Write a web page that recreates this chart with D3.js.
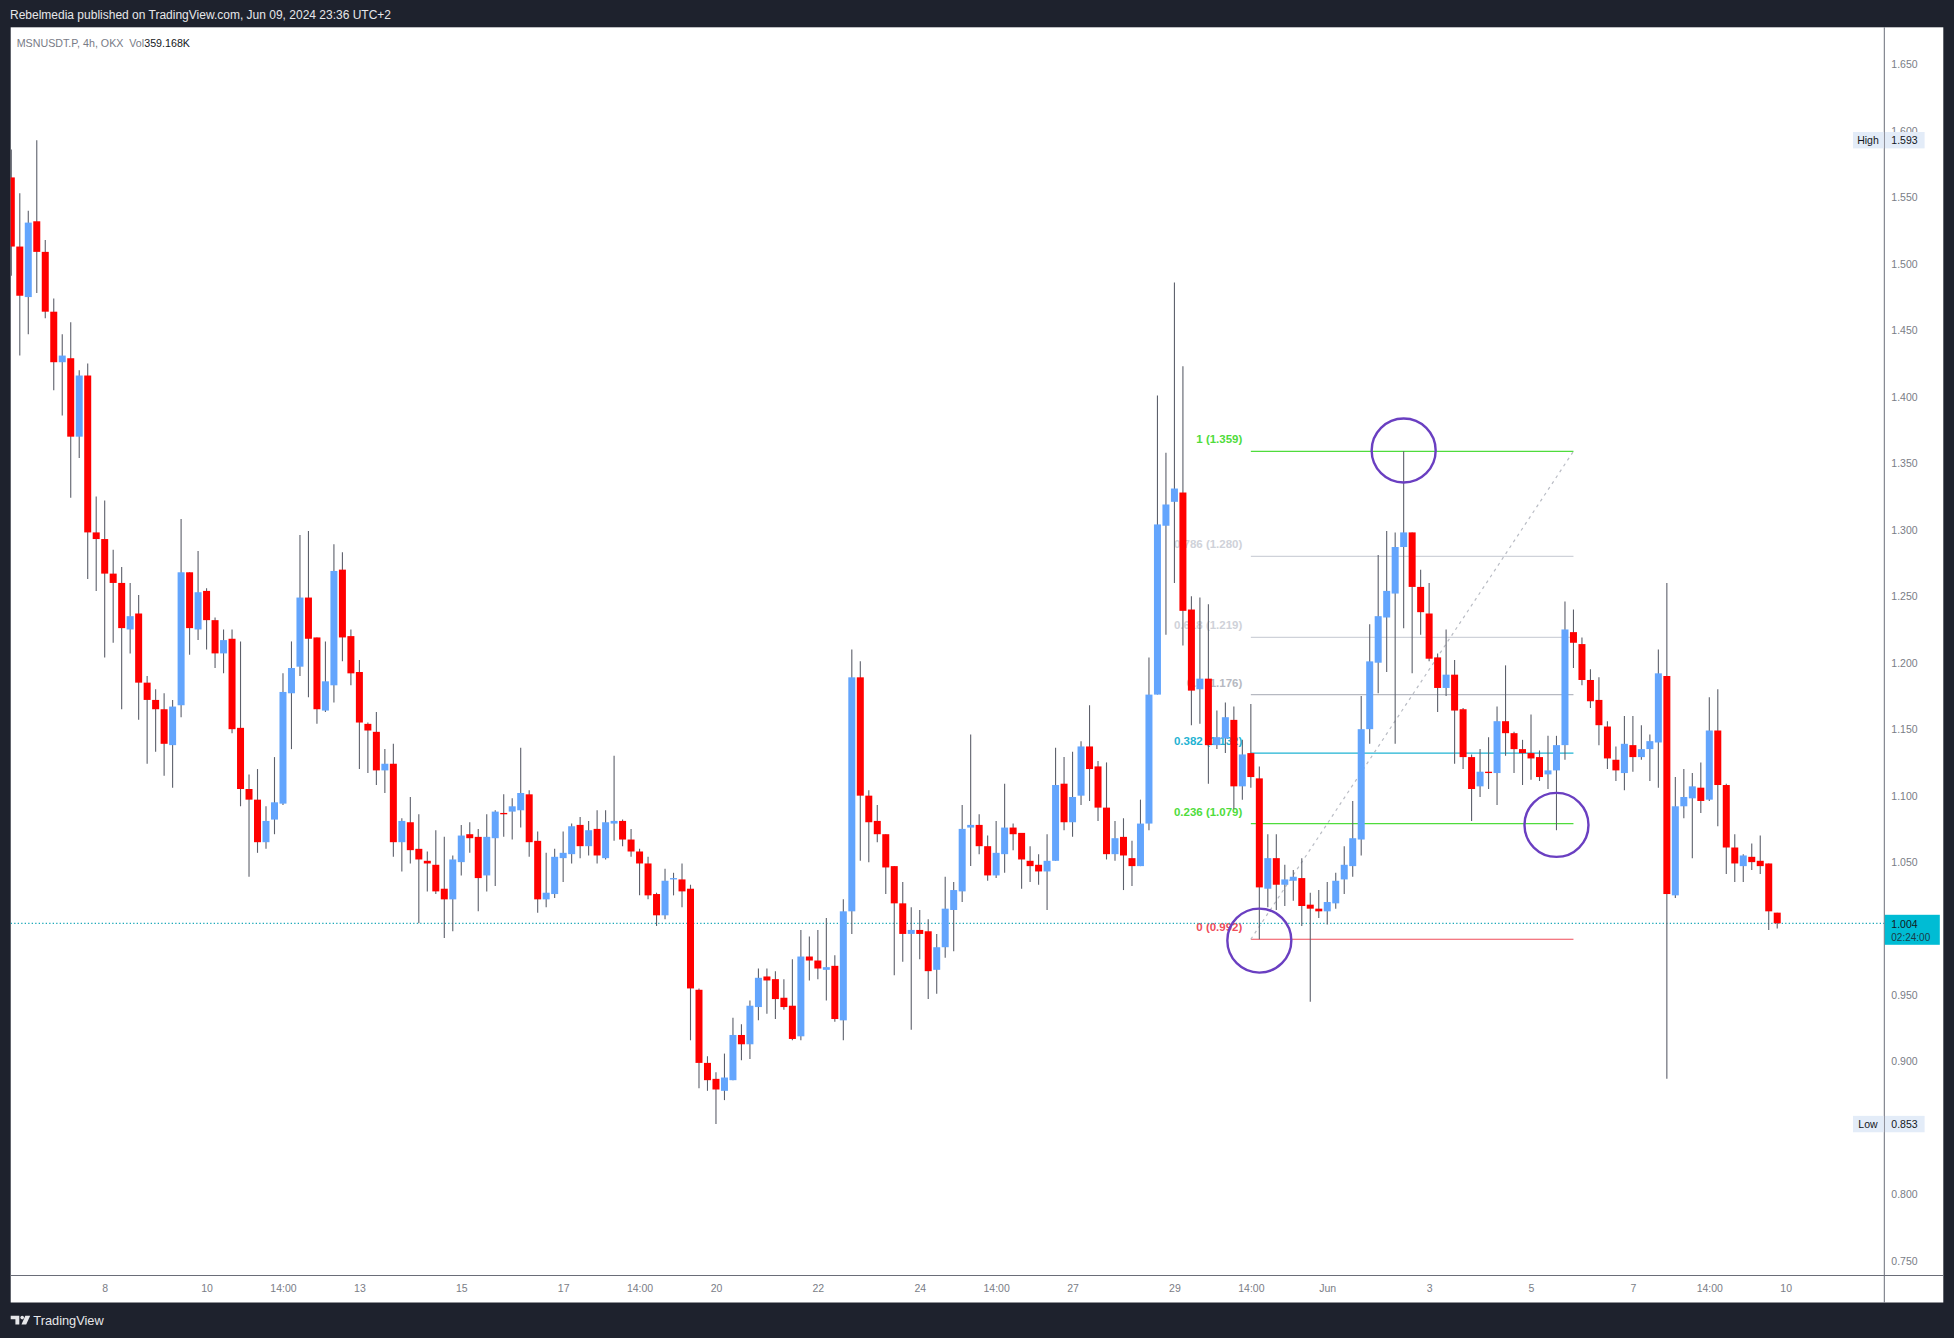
<!DOCTYPE html>
<html><head><meta charset="utf-8">
<script src="https://cdn.jsdelivr.net/npm/d3@7"></script>
<style>html,body{margin:0;padding:0;background:#1e222d;overflow:hidden}</style>
</head><body>
<svg id="chart" width="1954" height="1338"></svg>
<script>
// ---------------- DATA ----------------
// 4h candles, MSNUSDT.P (OKX), times shown in UTC+2
const firstCandle = "2024-05-06T06:00";
const candleHours = 4;
const openPrices = [
1.565,1.513,1.475,1.532,1.509,1.464,1.426,1.429,1.370,1.416,
1.298,1.293,1.267,1.260,1.225,1.237,1.185,1.172,1.165,1.138,
1.168,1.268,1.225,1.254,1.232,1.207,1.218,1.151,1.105,1.097,
1.065,1.082,1.094,1.177,1.197,1.249,1.219,1.164,1.183,1.270,
1.220,1.193,1.154,1.148,1.119,1.124,1.065,1.080,1.060,1.051,
1.048,1.030,1.022,1.050,1.071,1.069,1.040,1.068,1.087,1.088,
1.089,1.101,1.066,1.022,1.026,1.053,1.056,1.078,1.062,1.075,
1.053,1.079,1.081,1.067,1.058,1.049,1.026,1.010,1.037,1.037,
1.030,0.954,0.899,0.887,0.878,0.886,0.920,0.913,0.941,0.964,
0.962,0.948,0.942,0.919,0.979,0.976,0.969,0.972,0.931,1.013,
1.189,1.100,1.081,1.071,1.047,1.019,0.996,0.999,0.998,0.969,
0.986,1.014,1.028,1.076,1.078,1.062,1.040,1.056,1.076,1.072,
1.051,1.048,1.043,1.051,1.109,1.080,1.100,1.137,1.122,1.091,
1.056,1.069,1.053,1.047,1.079,1.176,1.303,1.321,1.328,1.240,
1.180,1.188,1.138,1.143,1.157,1.107,1.132,1.113,1.030,1.053,
1.033,1.036,1.038,1.018,1.015,1.013,1.019,1.037,1.047,1.067,
1.150,1.200,1.234,1.252,1.287,1.298,1.257,1.237,1.204,1.181,
1.191,1.165,1.129,1.107,1.118,1.117,1.156,1.147,1.135,1.132,
1.129,1.116,1.119,1.138,1.223,1.214,1.187,1.172,1.152,1.127,
1.117,1.138,1.129,1.135,1.140,1.190,1.025,1.092,1.098,1.106,
1.097,1.149,1.108,1.061,1.047,1.054,1.051,1.049,1.012];
const highPrices = [
1.586,1.553,1.540,1.593,1.518,1.474,1.447,1.456,1.420,1.425,
1.325,1.322,1.285,1.272,1.260,1.251,1.190,1.180,1.177,1.172,
1.308,1.268,1.284,1.256,1.234,1.225,1.225,1.216,1.116,1.120,
1.092,1.129,1.192,1.216,1.296,1.299,1.219,1.216,1.289,1.283,
1.225,1.202,1.155,1.163,1.135,1.139,1.083,1.099,1.086,1.058,
1.074,1.069,1.055,1.078,1.080,1.075,1.086,1.089,1.101,1.098,
1.136,1.104,1.073,1.057,1.060,1.073,1.079,1.084,1.081,1.089,
1.089,1.130,1.082,1.075,1.060,1.054,1.027,1.045,1.042,1.049,
1.033,0.955,0.904,0.892,0.906,0.933,0.928,0.946,0.970,0.970,
0.968,0.962,0.977,0.999,0.994,0.999,1.008,0.980,1.022,1.210,
1.201,1.104,1.093,1.071,1.047,1.035,1.016,1.014,1.007,0.996,
1.039,1.035,1.093,1.146,1.086,1.070,1.081,1.109,1.079,1.072,
1.062,1.056,1.071,1.136,1.129,1.133,1.141,1.168,1.126,1.125,
1.081,1.083,1.066,1.097,1.204,1.401,1.358,1.486,1.423,1.250,
1.249,1.244,1.164,1.170,1.167,1.142,1.169,1.122,1.071,1.071,
1.048,1.044,1.053,1.027,1.029,1.035,1.042,1.062,1.096,1.175,
1.229,1.281,1.299,1.298,1.359,1.298,1.270,1.260,1.207,1.225,
1.202,1.166,1.131,1.135,1.144,1.167,1.198,1.148,1.142,1.161,
1.134,1.145,1.145,1.246,1.240,1.219,1.195,1.189,1.156,1.137,
1.160,1.160,1.153,1.146,1.210,1.260,1.114,1.120,1.117,1.125,
1.174,1.180,1.109,1.071,1.056,1.064,1.070,1.049,1.012];
const lowPrices = [
1.491,1.431,1.447,1.478,1.459,1.405,1.386,1.324,1.354,1.263,
1.254,1.204,1.215,1.165,1.207,1.157,1.124,1.133,1.115,1.106,
1.159,1.206,1.217,1.210,1.196,1.192,1.147,1.092,1.039,1.057,
1.060,1.071,1.093,1.135,1.190,1.174,1.154,1.163,1.170,1.201,
1.183,1.120,1.117,1.108,1.102,1.054,1.043,1.049,1.004,1.028,
1.026,0.993,0.998,1.040,1.057,1.013,1.028,1.032,1.069,1.067,
1.076,1.054,1.012,1.016,1.023,1.035,1.049,1.053,1.055,1.049,
1.052,1.066,1.062,1.054,1.025,1.022,1.002,1.007,1.025,1.016,
0.916,0.880,0.878,0.853,0.871,0.886,0.901,0.902,0.931,0.936,
0.932,0.939,0.916,0.916,0.961,0.962,0.946,0.930,0.916,0.996,
1.051,1.050,1.065,1.026,0.965,0.975,0.924,0.977,0.947,0.951,
0.978,0.983,1.020,1.047,1.056,1.036,1.038,1.042,1.059,1.030,
1.035,1.033,1.014,1.051,1.074,1.069,1.093,1.096,1.081,1.052,
1.051,1.029,1.032,1.047,1.074,1.176,1.221,1.260,1.213,1.153,
1.154,1.109,1.135,1.132,1.090,1.097,1.106,0.992,1.016,1.014,
1.017,1.021,1.002,0.945,1.008,1.003,1.015,1.026,1.039,1.055,
1.139,1.177,1.193,1.139,1.226,1.192,1.221,1.201,1.163,1.175,
1.124,1.120,1.081,1.099,1.105,1.093,1.130,1.117,1.108,1.112,
1.111,1.105,1.074,1.127,1.196,1.183,1.166,1.138,1.120,1.111,
1.104,1.118,1.127,1.111,1.106,0.887,1.023,1.083,1.053,1.087,
1.096,1.077,1.041,1.035,1.035,1.044,1.041,0.999,1.000];
const closePrices = [
1.513,1.476,1.531,1.509,1.464,1.426,1.431,1.370,1.416,1.298,
1.293,1.267,1.260,1.226,1.235,1.185,1.172,1.165,1.139,1.167,
1.268,1.226,1.253,1.232,1.207,1.217,1.150,1.105,1.097,1.065,
1.081,1.095,1.178,1.196,1.249,1.218,1.165,1.186,1.269,1.219,
1.192,1.155,1.149,1.119,1.124,1.065,1.081,1.059,1.052,1.049,
1.028,1.022,1.052,1.070,1.068,1.038,1.069,1.088,1.086,1.092,
1.102,1.065,1.022,1.027,1.054,1.057,1.077,1.062,1.074,1.055,
1.080,1.081,1.067,1.058,1.049,1.025,1.010,1.036,1.038,1.028,
0.955,0.899,0.886,0.879,0.888,0.920,0.913,0.942,0.963,0.961,
0.947,0.941,0.917,0.979,0.976,0.970,0.971,0.932,1.013,1.189,
1.100,1.080,1.071,1.046,1.019,0.996,0.999,0.996,0.968,0.986,
1.015,1.029,1.075,1.078,1.062,1.040,1.057,1.076,1.071,1.052,
1.047,1.043,1.051,1.108,1.080,1.099,1.137,1.120,1.091,1.056,
1.068,1.055,1.047,1.079,1.176,1.304,1.319,1.331,1.239,1.179,
1.188,1.138,1.144,1.159,1.107,1.131,1.114,1.031,1.053,1.033,
1.037,1.039,1.017,1.015,1.013,1.020,1.036,1.048,1.068,1.150,
1.201,1.235,1.254,1.287,1.298,1.257,1.238,1.203,1.181,1.191,
1.164,1.129,1.105,1.118,1.117,1.156,1.147,1.135,1.132,1.128,
1.114,1.119,1.138,1.225,1.215,1.187,1.171,1.153,1.128,1.119,
1.139,1.129,1.135,1.141,1.192,1.026,1.092,1.099,1.107,1.096,
1.149,1.108,1.061,1.049,1.055,1.050,1.047,1.013,1.004];

// price ticks visible on the axis (1.000 and 0.850 sit under the price / low labels)
const priceTicks = [0.75,0.80,0.90,0.95,1.05,1.10,1.15,1.20,1.25,1.30,1.35,1.40,1.45,1.50,1.55,1.60,1.65];
const timeTicks = ["2024-05-08T02:00","2024-05-10T02:00","2024-05-11T14:00","2024-05-13T02:00","2024-05-15T02:00",
  "2024-05-17T02:00","2024-05-18T14:00","2024-05-20T02:00","2024-05-22T02:00","2024-05-24T02:00",
  "2024-05-25T14:00","2024-05-27T02:00","2024-05-29T02:00","2024-05-30T14:00","2024-06-01T02:00",
  "2024-06-03T02:00","2024-06-05T02:00","2024-06-07T02:00","2024-06-08T14:00","2024-06-10T02:00"];
const timeTickLabels = ["8","10","14:00","13","15","17","14:00","20","22","24","14:00","27","29","14:00","Jun","3","5","7","14:00","10"];

// Fibonacci retracement drawn on the chart
const fibStart = "2024-05-30T14:00";
const fibEnd = "2024-06-05T22:00";
const fibPrices = [0.992,1.079,1.132,1.176,1.219,1.280,1.359];
const fibLabels = ["0 (0.992)","0.236 (1.079)","0.382 (1.132)","0.5 (1.176)","0.618 (1.219)","0.786 (1.280)","1 (1.359)"];
// Circled points
const circleTimes = ["2024-05-30T18:00","2024-06-02T14:00","2024-06-05T14:00"];
const circlePrices = [0.991,1.3596,1.078];

const lastPrice = 1.004, sessionHigh = 1.593, sessionLow = 0.853;
const countdown = "02:24:00";

// ---------------- STYLE ----------------
const W = 1954, H = 1338;
const plotL = 10.7, plotT = 27.3, plotR = 1884.3, plotB = 1275.5, panelR = 1943.3, panelB = 1302.5;
const fibColors = ["#ef4d5a","#4fdc3c","#1fb3d3","#b6b9c1","#cfd2d9","#cfd2d9","#4fdc3c"];
const upColor = "#63a5fd", downColor = "#ff0000", wickColor = "#5d606b";
const axisText = "#7a7d86";
const font = "'Liberation Sans', Arial, sans-serif";

const parse = s => { const [d,t] = s.split("T"); const [Y,M,D] = d.split("-").map(Number); const [h,m] = t.split(":").map(Number); return new Date(Date.UTC(Y,M-1,D,h,m)); };
const t0 = parse(firstCandle);
const candles = openPrices.map((o,i) => ({
  t: new Date(t0.getTime() + i*candleHours*3600e3),
  o, h: highPrices[i], l: lowPrices[i], c: closePrices[i]
}));

const x = d3.scaleUtc().domain([candles[0].t, candles[candles.length-1].t]).range([11.3, 11.3 + (candles.length-1)*8.49]);
const y = d3.scaleLinear().domain([0.75, 1.65]).range([1261.0, 64.4]);
const bodyW = 7;

const svg = d3.select("#chart");
svg.append("rect").attr("width",W).attr("height",H).attr("fill","#1e222d");
svg.append("rect").attr("x",plotL).attr("y",plotT).attr("width",panelR-plotL).attr("height",panelB-plotT).attr("fill","#ffffff");

svg.append("defs").append("clipPath").attr("id","plotclip").append("rect")
  .attr("x",plotL).attr("y",plotT).attr("width",plotR-plotL).attr("height",plotB-plotT);
const plot = svg.append("g").attr("clip-path","url(#plotclip)");

// Fib drawing
const fx1 = x(parse(fibStart)), fx2 = x(parse(fibEnd));
const fib = plot.append("g");
fib.selectAll("line.fib").data(fibPrices).join("line")
  .attr("x1",fx1).attr("x2",fx2).attr("y1",d=>y(d)).attr("y2",d=>y(d))
  .attr("stroke",(d,i)=>fibColors[i]).attr("stroke-width",1.2);
fib.selectAll("text.fib").data(fibPrices).join("text")
  .attr("x",fx1-8.5).attr("y",d=>y(d)-8).attr("text-anchor","end")
  .attr("font-family",font).attr("font-size",11.5).attr("font-weight","bold")
  .attr("fill",(d,i)=>fibColors[i]).text((d,i)=>fibLabels[i]);
fib.append("line")
  .attr("x1",fx1).attr("y1",y(fibPrices[0])).attr("x2",fx2).attr("y2",y(fibPrices[fibPrices.length-1]))
  .attr("stroke","#b9bcc4").attr("stroke-width",1.2).attr("stroke-dasharray","3,4");

// last price dotted line
plot.append("line").attr("x1",plotL).attr("x2",plotR).attr("y1",y(lastPrice)).attr("y2",y(lastPrice))
  .attr("stroke","#1aa8b8").attr("stroke-width",1.2).attr("stroke-dasharray","1.3,2.2");

// candles
const cg = plot.append("g");
cg.selectAll("line.wick").data(candles).join("line")
  .attr("x1",d=>x(d.t)).attr("x2",d=>x(d.t)).attr("y1",d=>y(d.h)).attr("y2",d=>y(d.l))
  .attr("stroke",wickColor).attr("stroke-width",1.1);
cg.selectAll("rect.body").data(candles).join("rect")
  .attr("x",d=>x(d.t)-bodyW/2).attr("width",bodyW)
  .attr("y",d=>y(Math.max(d.o,d.c)))
  .attr("height",d=>Math.max(1.2, Math.abs(y(d.o)-y(d.c))))
  .attr("fill",d=>d.c>=d.o?upColor:downColor);

// circles
plot.selectAll("circle.mark").data(circleTimes).join("circle")
  .attr("cx",d=>x(parse(d))).attr("cy",(d,i)=>y(circlePrices[i])).attr("r",32)
  .attr("fill","none").attr("stroke","#6a3fc1").attr("stroke-width",2.4);

// axes lines
svg.append("line").attr("x1",plotR).attr("x2",plotR).attr("y1",plotT).attr("y2",panelB).attr("stroke","#6a6d78").attr("stroke-width",1);
svg.append("line").attr("x1",plotL).attr("x2",panelR).attr("y1",plotB).attr("y2",plotB).attr("stroke","#6a6d78").attr("stroke-width",1);

// price axis
const yAxis = svg.append("g").attr("transform",`translate(${plotR},0)`)
  .call(d3.axisRight(y).tickValues(priceTicks).tickSize(0).tickPadding(7).tickFormat(d3.format(".3f")));
yAxis.select(".domain").remove();
yAxis.selectAll("text").attr("font-family",font).attr("font-size",10.5).attr("fill",axisText);

// time axis
const xAxis = svg.append("g").attr("transform",`translate(0,${plotB})`)
  .call(d3.axisBottom(x).tickValues(timeTicks.map(parse)).tickSize(0).tickPadding(9)
    .tickFormat((d,i)=>timeTickLabels[i]));
xAxis.select(".domain").remove();
xAxis.selectAll("text").attr("font-family",font).attr("font-size",10.5).attr("fill",axisText);

// High / Low labels
function sideLabel(name, price){
  const cy = y(price);
  const g = svg.append("g");
  g.append("rect").attr("x",1853).attr("y",cy-8.2).attr("width",plotR-1853-0.6).attr("height",16.4).attr("fill","#e3ecf8");
  g.append("rect").attr("x",plotR+0.6).attr("y",cy-8.2).attr("width",1924-plotR).attr("height",16.4).attr("fill","#e3ecf8");
  g.append("text").attr("x",1868).attr("y",cy+3.7).attr("text-anchor","middle").attr("font-family",font).attr("font-size",10.5).attr("fill","#131722").text(name);
  g.append("text").attr("x",plotR+7).attr("y",cy+3.7).attr("font-family",font).attr("font-size",10.5).attr("fill","#131722").text(d3.format(".3f")(price));
}
sideLabel("High", sessionHigh);
sideLabel("Low", sessionLow);

// last price label
const ly = y(lastPrice);
svg.append("rect").attr("x",plotR+0.5).attr("y",ly-8.5).attr("width",55).attr("height",30).attr("fill","#00bcd4");
svg.append("text").attr("x",plotR+7).attr("y",ly+4.3).attr("font-family",font).attr("font-size",10.5).attr("fill","#131722").text(d3.format(".3f")(lastPrice));
svg.append("text").attr("x",plotR+7).attr("y",ly+17.5).attr("font-family",font).attr("font-size",10).attr("fill","#1c3b48").text(countdown);

// header
svg.append("text").attr("x",10).attr("y",19).attr("font-family",font).attr("font-size",12).attr("fill","#e6e7ea")
  .text("Rebelmedia published on TradingView.com, Jun 09, 2024 23:36 UTC+2");
const legend = svg.append("text").attr("x",16.7).attr("y",47).attr("font-family",font).attr("font-size",10.7).attr("fill","#787b86");
legend.append("tspan").text("MSNUSDT.P, 4h, OKX\u00a0\u00a0Vol");
legend.append("tspan").attr("fill","#131722").text("359.168K");

// footer logo
const logo = svg.append("g").attr("fill","#e6e7ea");
logo.append("path").attr("d","M10.7,1315.8 H19.3 V1324.6 H15.4 V1319.2 H10.7 Z");
logo.append("circle").attr("cx",22.2).attr("cy",1317.6).attr("r",1.8);
logo.append("path").attr("d","M25.3,1315.8 H30.2 L26.2,1324.6 H21.5 Z");
svg.append("text").attr("x",33.3).attr("y",1325).attr("font-family",font).attr("font-size",12.8).attr("fill","#e6e7ea").text("TradingView");
</script>
</body></html>
